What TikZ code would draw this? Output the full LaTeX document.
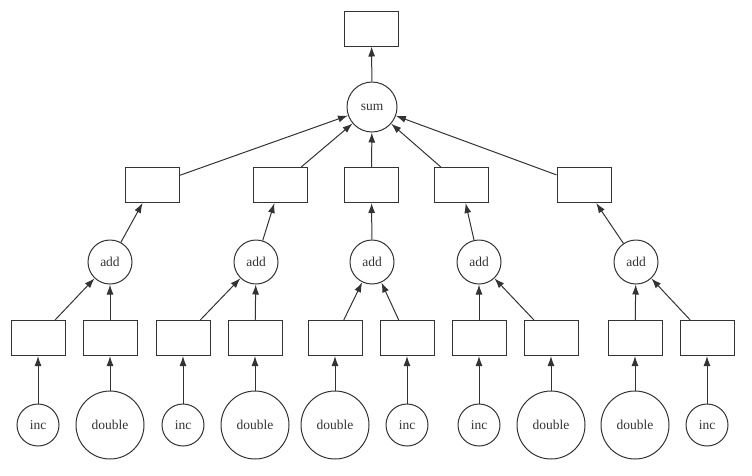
\documentclass[tikz,border=0pt]{standalone}
\usepackage{fontspec}
\setmainfont{Liberation Serif}
\usetikzlibrary{arrows.meta}
\definecolor{ln}{HTML}{333333}
\begin{document}
\begin{tikzpicture}[x=1pt,y=-1pt,
  every node/.style={font=\fontsize{13.5}{15}\selectfont, text=ln},
  bx/.style={draw=ln, line width=1pt, rectangle, minimum width=54pt, minimum height=35pt, inner sep=0pt},
  cir/.style={draw=ln, line width=1pt, circle, inner sep=0pt, minimum size=#1},
  ar/.style={draw=ln, line width=1pt, -{Latex[length=10pt,width=7pt]}}]
\useasboundingbox (0,0) rectangle (752,475);
% top
\node[bx] (top) at (371.5,28.5) {};
\node[cir=50pt] (sum) at (372,107) {sum};
% level 2 boxes
\node[bx] (b1) at (152.5,185) {};
\node[bx] (b2) at (280,185) {};
\node[bx] (b3) at (371.5,185) {};
\node[bx] (b4) at (461.5,185) {};
\node[bx] (b5) at (584,185) {};
% add nodes
\node[cir=44pt] (a1) at (110,262) {add};
\node[cir=44pt] (a2) at (256,262) {add};
\node[cir=44pt] (a3) at (372,262) {add};
\node[cir=44pt] (a4) at (479,262) {add};
\node[cir=44pt] (a5) at (636,262) {add};
% level 4 boxes
\node[bx] (c1) at (38,338) {};
\node[bx] (c2) at (110,338) {};
\node[bx] (c3) at (183,338) {};
\node[bx] (c4) at (255,338) {};
\node[bx] (c5) at (335,338) {};
\node[bx] (c6) at (407,338) {};
\node[bx] (c7) at (479,338) {};
\node[bx] (c8) at (551,338) {};
\node[bx] (c9) at (635,338) {};
\node[bx] (c10) at (707,338) {};
% bottom
\node[cir=42pt] (d1) at (38,425) {inc};
\node[cir=68pt] (d2) at (110,425) {double};
\node[cir=42pt] (d3) at (183,425) {inc};
\node[cir=68pt] (d4) at (255,425) {double};
\node[cir=68pt] (d5) at (335,425) {double};
\node[cir=42pt] (d6) at (407,425) {inc};
\node[cir=42pt] (d7) at (479,425) {inc};
\node[cir=68pt] (d8) at (551,425) {double};
\node[cir=68pt] (d9) at (635,425) {double};
\node[cir=42pt] (d10) at (707,425) {inc};
% edges
\draw[ar] (sum) -- (top);
\foreach \b in {b1,b2,b3,b4,b5} \draw[ar] (\b) -- (sum);
\draw[ar] (a1) -- (b1);
\draw[ar] (a2) -- (b2);
\draw[ar] (a3) -- (b3);
\draw[ar] (a4) -- (b4);
\draw[ar] (a5) -- (b5);
\draw[ar] (c1) -- (a1); \draw[ar] (c2) -- (a1);
\draw[ar] (c3) -- (a2); \draw[ar] (c4) -- (a2);
\draw[ar] (c5) -- (a3); \draw[ar] (c6) -- (a3);
\draw[ar] (c7) -- (a4); \draw[ar] (c8) -- (a4);
\draw[ar] (c9) -- (a5); \draw[ar] (c10) -- (a5);
\foreach \i in {1,...,10} \draw[ar] (d\i) -- (c\i);
\end{tikzpicture}
\end{document}
